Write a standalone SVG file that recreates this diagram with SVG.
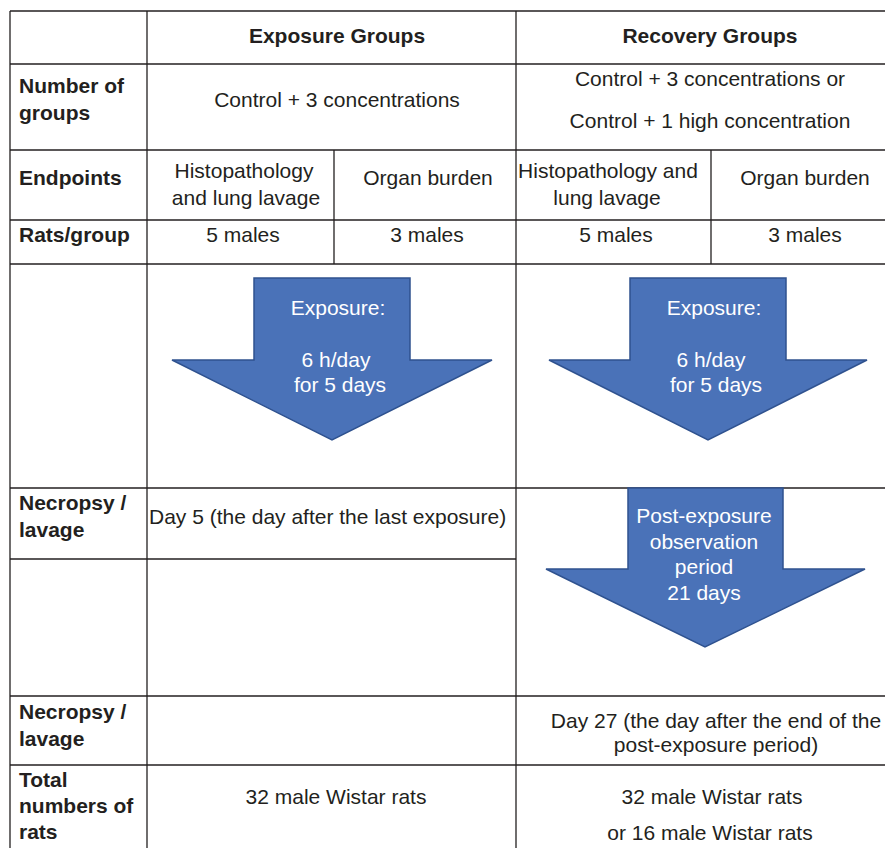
<svg xmlns="http://www.w3.org/2000/svg" width="885" height="848" viewBox="0 0 885 848">
<style>
text{font-family:"Liberation Sans",Arial,Helvetica,sans-serif;font-size:21px;fill:#231f20}
.b{font-weight:bold}
.c{text-anchor:middle}
.w{fill:#ffffff}
.g line{stroke:#231f20;stroke-width:1.3}
.arr{fill:#4a72b8;stroke:#2f528f;stroke-width:1.5;stroke-linejoin:miter}
</style>
<rect x="0" y="0" width="885" height="848" fill="#ffffff"/>
<g id="grid" class="g">
<line x1="10" y1="11" x2="885" y2="11"/>
<line x1="10" y1="64" x2="885" y2="64"/>
<line x1="10" y1="150" x2="885" y2="150"/>
<line x1="10" y1="220" x2="885" y2="220"/>
<line x1="10" y1="264" x2="885" y2="264"/>
<line x1="10" y1="488" x2="885" y2="488"/>
<line x1="10" y1="559" x2="516" y2="559"/>
<line x1="10" y1="696" x2="885" y2="696"/>
<line x1="10" y1="765" x2="885" y2="765"/>
<line x1="10" y1="11" x2="10" y2="848"/>
<line x1="147" y1="11" x2="147" y2="848"/>
<line x1="516" y1="11" x2="516" y2="848"/>
<line x1="334" y1="150" x2="334" y2="264"/>
<line x1="711" y1="150" x2="711" y2="264"/>
</g>
<g id="header-exposure"><text class="b c" x="337" y="43">Exposure Groups</text></g>
<g id="header-recovery"><text class="b c" x="710" y="43">Recovery Groups</text></g>
<g id="label-number"><text class="b" x="19" y="93">Number of</text><text class="b" x="19" y="120">groups</text></g>
<g id="exp-number"><text class="c" x="337" y="107">Control + 3 concentrations</text></g>
<g id="rec-number"><text class="c" x="710" y="86">Control + 3 concentrations or</text><text class="c" x="710" y="128">Control + 1 high concentration</text></g>
<g id="label-endpoints"><text class="b" x="19" y="185">Endpoints</text></g>
<g id="exp-histo"><text class="c" x="244" y="178">Histopathology</text><text class="c" x="246" y="205">and lung lavage</text></g>
<g id="exp-organ"><text class="c" x="428" y="185">Organ burden</text></g>
<g id="rec-histo"><text class="c" x="608" y="178">Histopathology and</text><text class="c" x="607" y="205">lung lavage</text></g>
<g id="rec-organ"><text class="c" x="805" y="185">Organ burden</text></g>
<g id="label-rats"><text class="b" x="19" y="242">Rats/group</text></g>
<g id="exp-rats5"><text class="c" x="243" y="242">5 males</text></g>
<g id="exp-rats3"><text class="c" x="427" y="242">3 males</text></g>
<g id="rec-rats5"><text class="c" x="616" y="242">5 males</text></g>
<g id="rec-rats3"><text class="c" x="805" y="242">3 males</text></g>
<g id="arrow-exposure-1">
<polygon class="arr" points="254,278 410,278 410,360 492,360 332,440 172,360 254,360"/>
<text class="c w" x="338" y="315">Exposure:</text>
<text class="c w" x="336" y="367">6 h/day</text>
<text class="c w" x="340" y="392">for 5 days</text>
</g>
<g id="arrow-exposure-2">
<polygon class="arr" points="630,278 786,278 786,360 867,360 708,440 549,360 630,360"/>
<text class="c w" x="714" y="315">Exposure:</text>
<text class="c w" x="711" y="367">6 h/day</text>
<text class="c w" x="716" y="392">for 5 days</text>
</g>
<g id="arrow-postexposure">
<polygon class="arr" points="628,488 783,488 783,569 865,569 705,647 546,569 628,569"/>
<text class="c w" x="704" y="523">Post-exposure</text>
<text class="c w" x="704" y="549">observation</text>
<text class="c w" x="704" y="574">period</text>
<text class="c w" x="704" y="600">21 days</text>
</g>
<g id="label-necropsy-1"><text class="b" x="19" y="510">Necropsy /</text><text class="b" x="19" y="537">lavage</text></g>
<g id="exp-necropsy"><text x="149" y="524">Day 5 (the day after the last exposure)</text></g>
<g id="label-necropsy-2"><text class="b" x="19" y="719">Necropsy /</text><text class="b" x="19" y="746">lavage</text></g>
<g id="rec-necropsy"><text class="c" x="716" y="728">Day 27 (the day after the end of the</text><text class="c" x="716" y="752">post-exposure period)</text></g>
<g id="label-total"><text class="b" x="19" y="787">Total</text><text class="b" x="19" y="813">numbers of</text><text class="b" x="19" y="839">rats</text></g>
<g id="exp-total"><text class="c" x="336" y="804">32 male Wistar rats</text></g>
<g id="rec-total"><text class="c" x="712" y="804">32 male Wistar rats</text><text class="c" x="710" y="840">or 16 male Wistar rats</text></g>
</svg>
